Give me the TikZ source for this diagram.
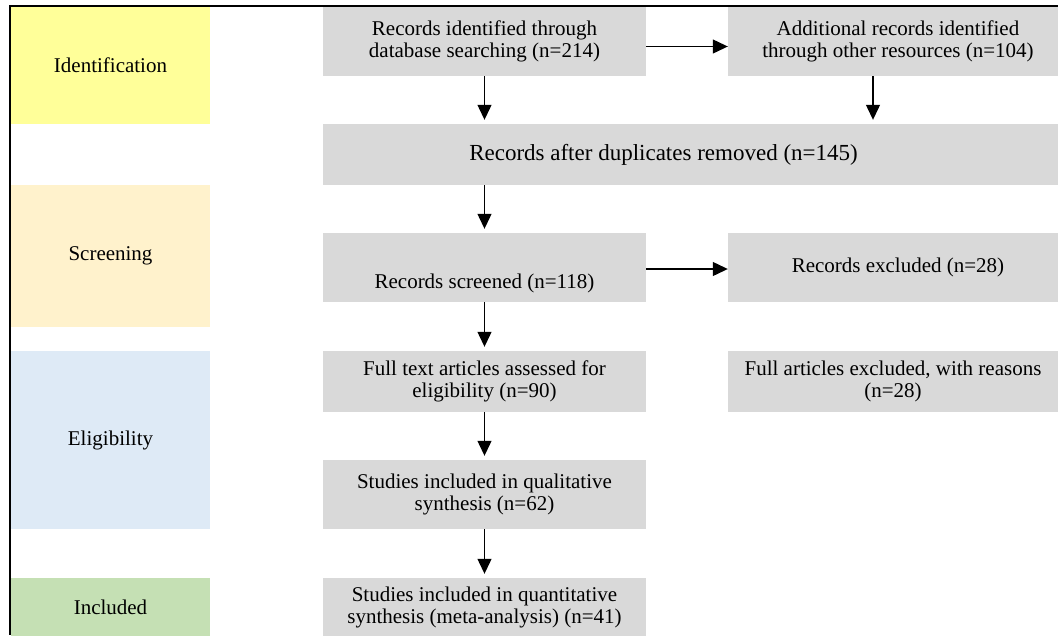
\documentclass[tikz,border=0pt]{standalone}
\usepackage{fontspec}
\setmainfont{Liberation Serif}
\usepackage{tikz}
\usetikzlibrary{arrows.meta}
\definecolor{identyellow}{HTML}{FFFF99}
\definecolor{screenorange}{HTML}{FFF2CC}
\definecolor{eligblue}{HTML}{DEEAF6}
\definecolor{inclgreen}{HTML}{C5E0B4}
\definecolor{boxgray}{HTML}{D9D9D9}

\begin{document}
\begin{tikzpicture}
[x=1pt,y=-1pt]
\tikzset{stage/.style={minimum width=199pt,inner sep=0pt,align=center,font=\fontsize{21}{22}\selectfont},
gbox/.style={fill=boxgray,inner sep=0pt,align=center,font=\fontsize{21}{22}\selectfont},
arr/.style={line width=1.2pt,-{Triangle[length=15pt,width=14pt]}}}
\useasboundingbox (0,0) rectangle (1058,635);
\clip (0,0) rectangle (1058,635);

\node [stage,fill=identyellow,minimum height=117pt] (s1) at (110.5,65.5) {Identification};
\node [stage,fill=screenorange,minimum height=142pt] (s2) at (110.5,256) {Screening};
\node [stage,fill=eligblue,minimum height=178pt] (s3) at (110.5,440) {Eligibility};
\node [stage,fill=inclgreen,minimum height=59pt] (s4) at (110.5,607.5) {Included};

\node [gbox,minimum width=323pt,minimum height=69pt] (recid) at (484.5,41.5) {Records identified through\\database searching (n=214)};
\node [gbox,minimum width=330pt,minimum height=69pt] (addrec) at (893,41.5) {\hspace*{10pt}Additional records identified\\\hspace*{10pt}through other resources (n=104)};
\node [gbox,minimum width=735pt,minimum height=61pt,font=\fontsize{23}{24}\selectfont] (dup) at (690.5,154.5) {Records after duplicates removed (n=145)\hspace*{54pt}};
\node [gbox,minimum width=323pt,minimum height=69pt,text height=51pt,text depth=10pt] (screened) at (484.5,267.5) {Records screened (n=118)};
\node [gbox,minimum width=330pt,minimum height=69pt] (excl) at (893,267.5) {\hspace*{10pt}Records excluded (n=28)};
\node [gbox,minimum width=323pt,minimum height=61pt] (full) at (484.5,381.5) {Full text articles assessed for\\eligibility (n=90)};
\node [gbox,minimum width=330pt,minimum height=61pt] (fullex) at (893,381.5) {Full articles excluded, with reasons\\(n=28)};
\node [gbox,minimum width=323pt,minimum height=69pt] (qual) at (484.5,494.5) {Studies included in qualitative\\synthesis (n=62)};
\node [gbox,minimum width=323pt,minimum height=59pt] (quant) at (484.5,607.5) {Studies included in quantitative\\synthesis (meta-analysis) (n=41)};

\coordinate (a2) at ([xshift=-20pt]addrec.south);

% frame
\draw [line width=2.2pt] (1058,6) -- (10,6) -- (10,635);

\foreach \from/\to/\dy in {recid/addrec/-5pt,screened/excl/-1.5pt}
	\draw [arr] ([yshift=\dy]\from.east) -- ([yshift=\dy]\to.west);

\foreach \from/\to/\col in {recid/dup/recid,addrec/dup/a2,dup/screened/screened,screened/full/full,full/qual/qual,qual/quant/quant}
	\draw [arr,shorten >=4pt] (\col |- \from.south) -- (\col |- \to.north);

\end{tikzpicture}
\end{document}
